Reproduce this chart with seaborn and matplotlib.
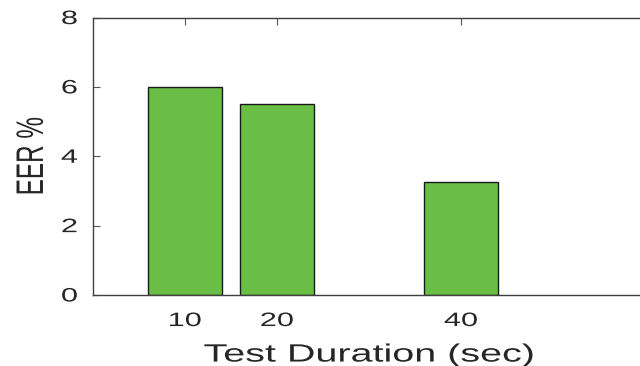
import matplotlib
matplotlib.use("Agg")
import matplotlib.pyplot as plt
import seaborn as sns
import pandas as pd
from matplotlib.patheffects import AbstractPathEffect
from matplotlib.transforms import Affine2D

# Equal error rate for each test duration
durations = [10, 20, 40]
eer = [6.0, 5.5, 3.25]
x_ticks = [10, 20, 40]
y_ticks = [0, 2, 4, 6, 8]


class StretchX(AbstractPathEffect):
    """Widen glyphs horizontally (in display space) about their centre."""

    def __init__(self, sx):
        super().__init__()
        self.sx = sx

    def draw_path(self, renderer, gc, tpath, affine, rgbFace=None):
        ext = tpath.get_extents(affine)
        cx = 0.5 * (ext.x0 + ext.x1)
        aff = affine + Affine2D().translate(-cx, 0).scale(self.sx, 1).translate(cx, 0)
        renderer.draw_path(gc, tpath, aff, rgbFace)


sns.set_style("white")
plt.rcParams["font.family"] = ["Liberation Sans", "DejaVu Sans"]

df = pd.DataFrame({"duration": durations, "eer": eer})

fig = plt.figure(figsize=(6.4, 3.66), dpi=100)
ax = fig.add_axes([0.1453, 0.194, 0.8625, 0.758])

sns.barplot(data=df, x="duration", y="eer", native_scale=True, width=0.8,
            color="#6abd45", saturation=1, edgecolor="#1a1a1a", linewidth=1.0,
            ax=ax)

ax.set_xlim(0, 60)
ax.set_ylim(0, 8)
ax.set_xticks(x_ticks)
ax.set_yticks(y_ticks)

wide = [StretchX(1.58)]
ax.set_xlabel("Test Duration (sec)", fontsize=18, color="#262626", labelpad=9,
              path_effects=wide)
ax.set_ylabel("EER %", fontsize=17.5, color="#262626", labelpad=15,
              path_effects=wide)

for s in ax.spines.values():
    s.set_visible(True)
    s.set_color("#404040")
    s.set_linewidth(1.0)

ax.tick_params(axis="both", direction="in", length=5, width=0.8, color="#555555",
               labelsize=14, labelcolor="#262626", top=True, right=False,
               left=True, bottom=True)
ax.tick_params(axis="x", pad=13)
ax.tick_params(axis="y", pad=13)
for lab in ax.get_xticklabels() + ax.get_yticklabels():
    lab.set_path_effects(wide)

fig.savefig("out.png", dpi=100)
